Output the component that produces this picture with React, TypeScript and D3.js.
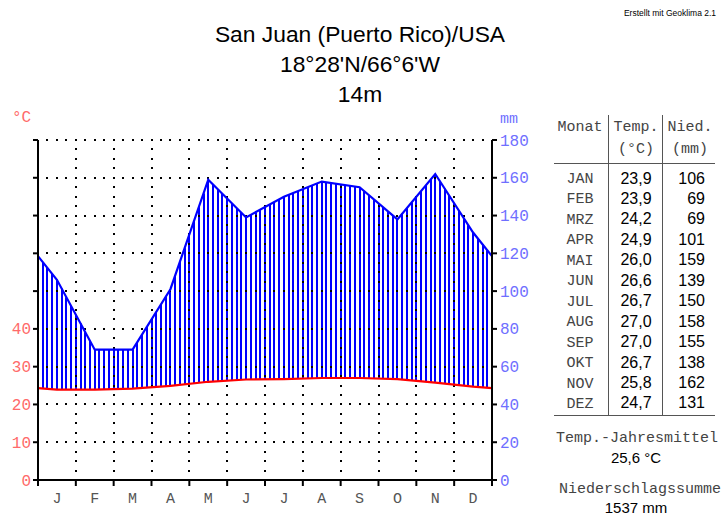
import React from "react";
import * as d3 from "d3";

const months = ["J", "F", "M", "A", "M", "J", "J", "A", "S", "O", "N", "D"];
const monthNames = ["JAN", "FEB", "MRZ", "APR", "MAI", "JUN", "JUL", "AUG", "SEP", "OKT", "NOV", "DEZ"];
const temps = [23.9, 23.9, 24.2, 24.9, 26.0, 26.6, 26.7, 27.0, 27.0, 26.7, 25.8, 24.7];
const precip = [106, 69, 69, 101, 159, 139, 150, 158, 155, 138, 162, 131];
const precipTicks = [0, 20, 40, 60, 80, 100, 120, 140, 160, 180];
const tempTicks = [0, 10, 20, 30, 40];
const titleLines = ["San Juan (Puerto Rico)/USA", "18°28'N/66°6'W", "14m"];

const W = 724, H = 516;
const L = 38, R = 492, T = 140, B = 480;
const MONO = "'Liberation Mono', 'DejaVu Sans Mono', monospace";
const SANS = "'Liberation Sans', Arial, sans-serif";

export default function App() {
  const x = d3.scaleLinear().domain([0, 12]).range([L, R]);
  const y = d3.scaleLinear().domain([0, 180]).range([B, T]);
  const mw = (R - L) / 12;

  const edgeP = (precip[0] + precip[11]) / 2;
  const edgeT = (temps[0] + temps[11]) / 2;
  const xs = [0, ...months.map((_, i) => i + 0.5), 12];
  const pExt = [edgeP, ...precip, edgeP];
  const tExt = [edgeT, ...temps, edgeT].map((t) => t * 2);
  const interp = (arr: number[], m: number) => {
    for (let i = 0; i < xs.length - 1; i++) {
      if (m >= xs[i] && m <= xs[i + 1]) {
        const f = (m - xs[i]) / (xs[i + 1] - xs[i]);
        return arr[i] + f * (arr[i + 1] - arr[i]);
      }
    }
    return arr[arr.length - 1];
  };

  const line = d3.line<number>().x((_, i) => x(xs[i])).y((d) => y(d));
  const pPath = line(pExt) || "";
  const tPath = line(tExt) || "";

  const hatch: JSX.Element[] = [];
  const nH = 96;
  for (let k = 0; k <= nH; k++) {
    const m = (k / nH) * 12;
    const pv = interp(pExt, m);
    const tv = interp(tExt, m);
    if (pv > tv) {
      const xx = Math.round(x(m));
      hatch.push(
        <rect key={"h" + k} x={xx - 1} width={2} y={y(pv)} height={y(tv) - y(pv)} fill="#0000ff" />
      );
    }
  }

  const dots: JSX.Element[] = [];
  precipTicks.filter((v) => v > 0).forEach((v) => {
    for (let k = 1; k < 48; k++) {
      dots.push(<rect key={`dh${v}-${k}`} x={Math.round(L + k * mw / 4) - 1} y={Math.round(y(v)) - 1} width={2} height={2} fill="#000" />);
    }
  });
  for (let m = 1; m < 12; m++) {
    for (let k = 1; k < 36; k++) {
      const yy = B - k * (B - T) / 36;
      dots.push(<rect key={`dv${m}-${k}`} x={Math.round(x(m)) - 1} y={Math.round(yy) - 1} width={2} height={2} fill="#000" />);
    }
  }

  const rowY = (i: number) => 178 + i * 20.45;

  return (
    <svg width={W} height={H} style={{ position: "absolute", left: 0, top: 0, background: "#fff" }}>
      <rect x={0} y={0} width={W} height={H} fill="#fff" />
      <text x={670} y={16} fontSize={8.5} fontFamily={SANS} textAnchor="middle" fill="#000">Erstellt mit Geoklima 2.1</text>
      {titleLines.map((t, i) => (
        <text key={t} x={360} y={42 + i * 30.2} fontSize={22.8} fontFamily={SANS} textAnchor="middle" fill="#000">{t}</text>
      ))}

      {hatch}
      {dots}
      <path d={pPath} fill="none" stroke="#0000ff" strokeWidth={2.2} />
      <path d={tPath} fill="none" stroke="#ff0000" strokeWidth={2.2} />

      <line x1={L} x2={L} y1={T} y2={B + 1} stroke="#000" strokeWidth={2} />
      <line x1={R} x2={R} y1={T} y2={B + 1} stroke="#000" strokeWidth={2} />
      <line x1={L - 1} x2={R + 1} y1={B} y2={B} stroke="#000" strokeWidth={2} />
      {precipTicks.map((v) => (
        <g key={"t" + v}>
          <line x1={L - 5} x2={L} y1={y(v)} y2={y(v)} stroke="#000" strokeWidth={2} />
          <line x1={R} x2={R + 5} y1={y(v)} y2={y(v)} stroke="#000" strokeWidth={2} />
          <text x={500} y={y(v) + 5.5} fontSize={16} fontFamily={MONO} fill="#6f6fff">{v}</text>
        </g>
      ))}
      {tempTicks.map((t) => (
        <text key={"tt" + t} x={31} y={y(t * 2) + 5.5} fontSize={16} fontFamily={MONO} fill="#ff6a6a" textAnchor="end">{t}</text>
      ))}
      <text x={12} y={122} fontSize={16} fontFamily={MONO} fill="#ff6a6a">°C</text>
      <text x={500} y={123} fontSize={15} fontFamily={MONO} fill="#6f6fff">mm</text>
      {d3.range(13).map((m) => (
        <line key={"bt" + m} x1={x(m)} x2={x(m)} y1={B} y2={B + 6} stroke="#000" strokeWidth={2} />
      ))}
      {months.map((mn, i) => (
        <text key={"ml" + i} x={x(i + 0.5)} y={503} fontSize={15} fontFamily={MONO} fill="#555" textAnchor="middle">{mn}</text>
      ))}

      <line x1={608.5} x2={608.5} y1={115} y2={416} stroke="#555" strokeWidth={1} />
      <line x1={662.5} x2={662.5} y1={115} y2={416} stroke="#555" strokeWidth={1} />
      <line x1={554} x2={715} y1={163.5} y2={163.5} stroke="#555" strokeWidth={1} />
      <line x1={554} x2={715} y1={415.5} y2={415.5} stroke="#555" strokeWidth={1} />
      <text x={580} y={131} fontSize={15} fontFamily={MONO} fill="#444" textAnchor="middle">Monat</text>
      <text x={636} y={131} fontSize={15} fontFamily={MONO} fill="#444" textAnchor="middle">Temp.</text>
      <text x={690} y={131} fontSize={15} fontFamily={MONO} fill="#444" textAnchor="middle">Nied.</text>
      <text x={636} y={153} fontSize={15} fontFamily={MONO} fill="#444" textAnchor="middle">(°C)</text>
      <text x={690} y={153} fontSize={15} fontFamily={MONO} fill="#444" textAnchor="middle">(mm)</text>
      {monthNames.map((mn, i) => (
        <g key={"r" + mn}>
          <text x={580} y={rowY(i) + 5} fontSize={15} fontFamily={MONO} fill="#444" textAnchor="middle">{mn}</text>
          <text x={636} y={rowY(i) + 5.5} fontSize={16} fontFamily={SANS} fill="#000" textAnchor="middle">{temps[i].toFixed(1).replace(".", ",")}</text>
          <text x={705} y={rowY(i) + 5.5} fontSize={16} fontFamily={SANS} fill="#000" textAnchor="end">{precip[i]}</text>
        </g>
      ))}
      <text x={637} y={442} fontSize={15} fontFamily={MONO} fill="#444" textAnchor="middle">Temp.-Jahresmittel</text>
      <text x={636} y={463} fontSize={15} fontFamily={SANS} fill="#000" textAnchor="middle">
        {(d3.mean(temps) as number).toFixed(1).replace(".", ",")} °C
      </text>
      <text x={640} y={493} fontSize={15} fontFamily={MONO} fill="#444" textAnchor="middle">Niederschlagssumme</text>
      <text x={636} y={513} fontSize={15} fontFamily={SANS} fill="#000" textAnchor="middle">{d3.sum(precip)} mm</text>
    </svg>
  );
}
